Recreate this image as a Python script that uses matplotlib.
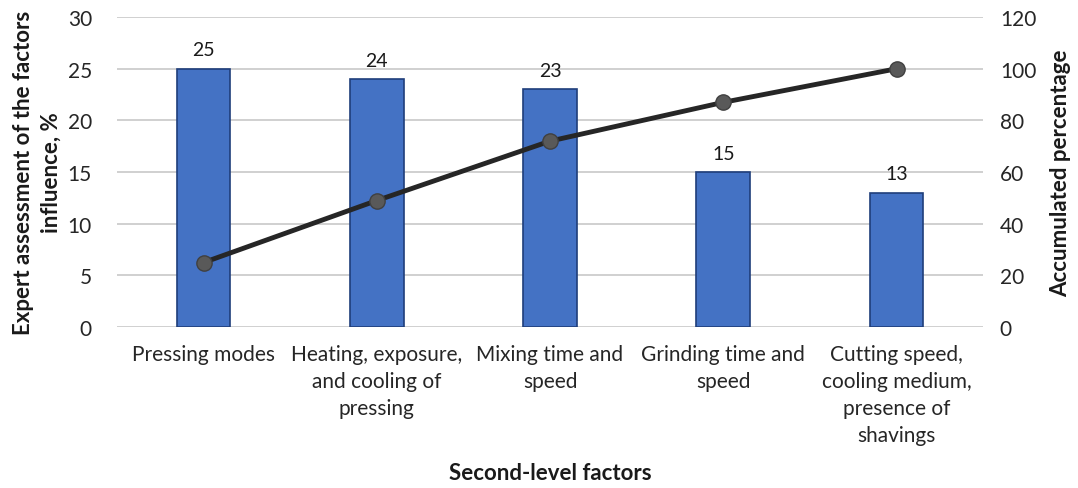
import numpy as np
import matplotlib.pyplot as plt

plt.rcParams['font.family'] = ['Lato', 'DejaVu Sans']

categories = ["Pressing modes",
              "Heating, exposure,\nand cooling of\npressing",
              "Mixing time and\nspeed",
              "Grinding time and\nspeed",
              "Cutting speed,\ncooling medium,\npresence of\nshavings"]
influence = [25, 24, 23, 15, 13]
accumulated = [25, 49, 72, 87, 100]

fig = plt.figure(figsize=(10.78, 4.89), dpi=100)
ax = fig.add_axes([0.1085, 0.329, 0.8035, 0.634])
x = np.arange(len(categories))

ax.bar(x, influence, width=0.31, color="#4472C4", edgecolor="#1F3E7A", linewidth=1.2, zorder=2)
for xi, v in zip(x, influence):
  ax.text(xi, v + 1.0, str(v), ha="center", va="bottom", fontsize=14, color="#1a1a1a")

ax.set_xlim(-0.5, len(categories) - 0.5)
ax.set_ylim(0, 30)
ax.set_yticks(np.arange(0, 31, 5))
ax.grid(axis="y", color="#c8c8c8", linewidth=1.2, zorder=0)
ax.set_axisbelow(True)
for s in ax.spines.values():
  s.set_visible(False)
ax.tick_params(length=0, labelsize=15, colors="#262626")
ax.tick_params(axis="y", pad=18)
ax.set_xticks(x)
ax.set_xticklabels(categories, fontsize=15, linespacing=1.45, va="top")
ax.tick_params(axis="x", pad=12)
ax.set_ylabel("Expert assessment of the factors\ninfluence, %", fontsize=16, fontweight="bold",
              color="#1a1a1a", labelpad=4, linespacing=1.45)
ax.set_xlabel("Second-level factors", fontsize=16, fontweight="bold", color="#1a1a1a", labelpad=12)

ax2 = ax.twinx()
ax2.plot(x, accumulated, color="#262626", linewidth=3.5, marker="o", markersize=11,
         markerfacecolor="#595959", markeredgecolor="#404040", markeredgewidth=1, zorder=3)
ax2.set_ylim(0, 120)
ax2.set_yticks(np.arange(0, 121, 20))
for s in ax2.spines.values():
  s.set_visible(False)
ax2.tick_params(length=0, labelsize=15, colors="#262626", pad=12)
ax2.set_ylabel("Accumulated percentage", fontsize=16, fontweight="bold", color="#1a1a1a", labelpad=10)

plt.savefig("out.png", dpi=100)
